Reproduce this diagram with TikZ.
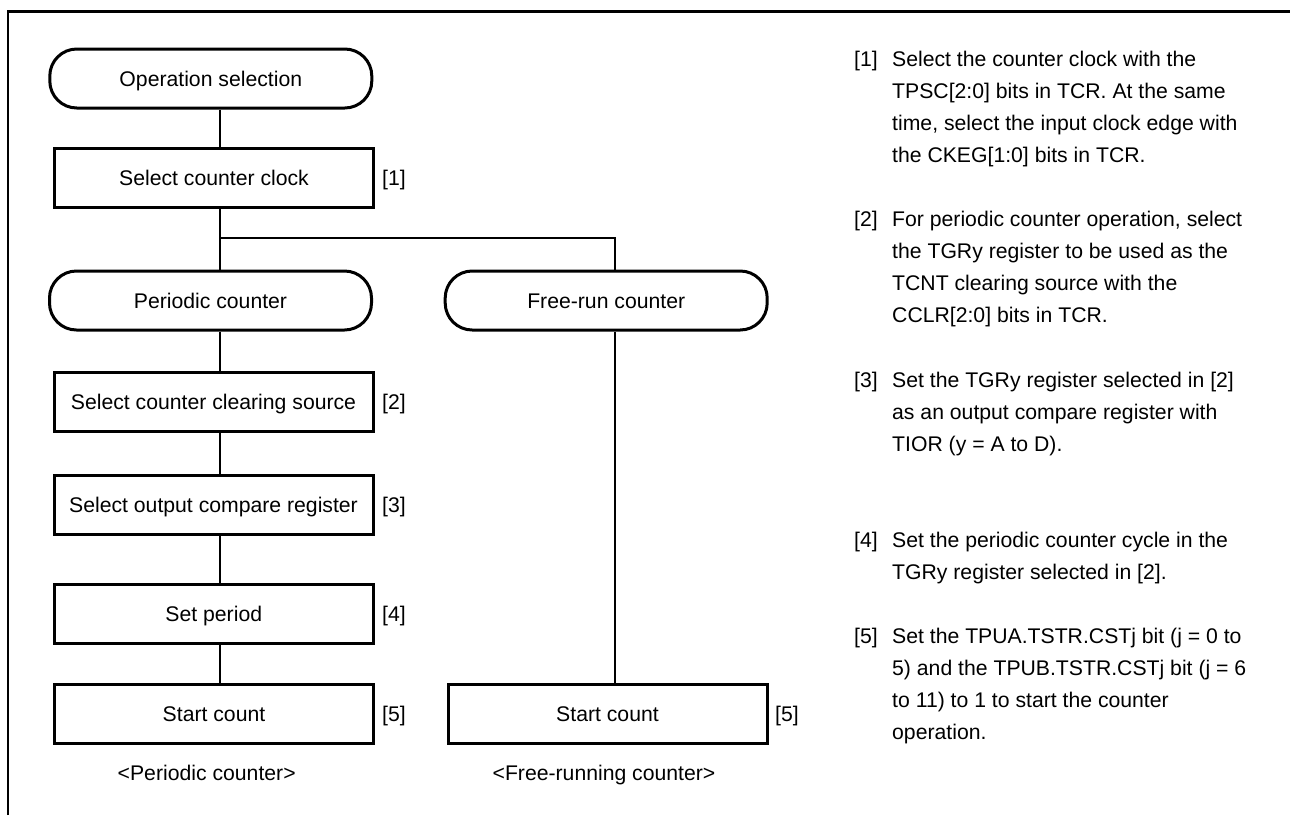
\documentclass[tikz,border=0pt]{standalone}
\usepackage{fontspec}
\setmainfont{Liberation Sans}
\tikzset{
  txt/.style={font=\fontsize{21.2}{32.05}\selectfont, inner sep=0pt, text height=15.2pt, text depth=0pt},
  term/.style={txt, draw, line width=3pt, rounded corners=27pt, minimum width=322pt, minimum height=59pt},
  stepbox/.style={txt, draw, line width=3pt, minimum width=319pt, minimum height=59pt},
  lbl/.style={txt, anchor=west},
  desc/.style={font=\fontsize{21.2}{32.05}\selectfont, inner sep=0pt, anchor=base west},
  conn/.style={line width=1.3pt},
  frame/.style={line width=2.6pt},
}
\begin{document}
\begin{tikzpicture}[x=1pt,y=-1pt]
\useasboundingbox (0,0) rectangle (1290,815);
% frame (open at right and bottom)
\coordinate (fb) at (8,815);
\coordinate (fc) at (8,11.5);
\coordinate (fr) at (1290,11.5);
\draw[frame] (fb) -- (fc) -- (fr);

% flow nodes
\node[term] (op) at (210.8,78.5) {Operation selection};
\node[stepbox] (clk) at (214,178) {Select counter clock};
\node[term] (per) at (210.5,300.5) {Periodic counter};
\node[term] (free) at (606.2,300.5) {Free-run counter};
\node[stepbox] (clr) at (213.5,401.5) {Select counter clearing source};
\node[stepbox] (ocr) at (213.5,504.5) {Select output compare register};
\node[stepbox] (setp) at (213.8,613.5) {Set period};
\node[stepbox] (st1) at (214,713.5) {Start count};
\node[stepbox] (st2) at (607.5,713.5) {Start count};

% step labels
\node[lbl] (l1) at (382,178) {[1]};
\node[lbl] (l2) at (382,401.5) {[2]};
\node[lbl] (l3) at (382,504.5) {[3]};
\node[lbl] (l4) at (382,613.5) {[4]};
\node[lbl] (l5) at (382,713.5) {[5]};
\node[lbl] (l5b) at (775,713.5) {[5]};

% captions
\node[txt] (cap1) at (206.7,773) {<Periodic counter>};
\node[txt] (cap2) at (604,773) {<Free-running counter>};

% connector spines
\coordinate (spL) at (220,0);
\coordinate (spR) at (615,0);
\coordinate (br) at (220,238);
\coordinate (brR) at (615,238);

\draw[conn] (op.south -| spL) -- (clk.north -| spL);
\draw[conn] (clk.south -| spL) -- (per.north -| spL);
\draw[conn] (br) -- (brR) -- (free.north -| spR);
\draw[conn] (per.south -| spL) -- (clr.north -| spL);
\draw[conn] (clr.south -| spL) -- (ocr.north -| spL);
\draw[conn] (ocr.south -| spL) -- (setp.north -| spL);
\draw[conn] (setp.south -| spL) -- (st1.north -| spL);
\draw[conn] (free.south -| spR) -- (st2.north -| spR);

% description numbers
\node[desc] (n1) at (854,66.5) {[1]};
\node[desc] (n2) at (854,226.75) {[2]};
\node[desc] (n3) at (854,387.0) {[3]};
\node[desc] (n4) at (854,547.25) {[4]};
\node[desc] (n5) at (854,643.4) {[5]};

% description lines
\foreach \yy/\tt [count=\i] in {
  66.5/{Select the counter clock with the},
  98.55/{TPSC[2:0] bits in TCR. At the same},
  130.6/{time, select the input clock edge with},
  162.65/{the CKEG[1:0] bits in TCR.},
  226.75/{For periodic counter operation, select},
  258.8/{the TGRy register to be used as the},
  290.85/{TCNT clearing source with the},
  322.9/{CCLR[2:0] bits in TCR.},
  387.0/{Set the TGRy register selected in [2]},
  419.05/{as an output compare register with},
  451.1/{TIOR (y = A to D).},
  547.25/{Set the periodic counter cycle in the},
  579.3/{TGRy register selected in [2].},
  643.4/{Set the TPUA.TSTR.CSTj bit (j = 0 to},
  675.45/{5) and the TPUB.TSTR.CSTj bit (j = 6},
  707.5/{to 11) to 1 to start the counter},
  739.55/{operation.}}
  \node[desc] (d\i) at (892,\yy) {\tt};
\end{tikzpicture}
\end{document}
